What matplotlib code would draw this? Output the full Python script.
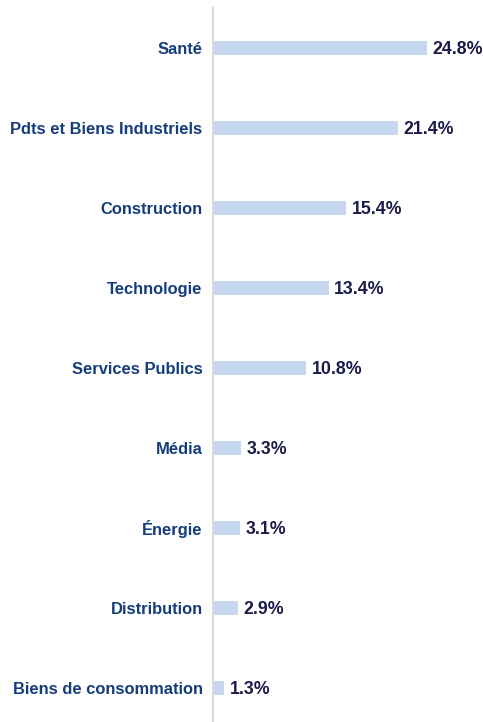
import matplotlib.pyplot as plt

# secteurs et poids (%)
secteurs = ['Santé', 'Pdts et Biens Industriels', 'Construction', 'Technologie',
            'Services Publics', 'Média', 'Énergie', 'Distribution',
            'Biens de consommation']
poids = [24.8, 21.4, 15.4, 13.4, 10.8, 3.3, 3.1, 2.9, 1.3]

plt.rcParams['font.family'] = ['Liberation Sans', 'DejaVu Sans']

fig = plt.figure(figsize=(4.83, 7.22), dpi=100)
ax = fig.add_axes([213 / 483, 0, 270 / 483, 714 / 722])

y = list(range(len(secteurs)))
ax.barh(y, poids, height=0.175, color='#c6d9f1')

for i, v in enumerate(poids):
    ax.annotate(f'{v:.1f}%', (v, i), xytext=(4, 0), textcoords='offset points',
                va='center_baseline', ha='left', fontsize=12.8, fontweight='bold',
                color='#1b1b4b')

ax.set_yticks(y)
ax.set_yticklabels(secteurs, fontsize=11.9, fontweight='bold', color='#153d7c')
ax.tick_params(axis='y', length=0, pad=7.5)
ax.set_xticks([])
ax.set_xlim(0, 270 / 8.63)
ax.set_ylim(8.425, -0.5)

for s in ['top', 'right', 'bottom']:
    ax.spines[s].set_visible(False)
ax.spines['left'].set_color('#d9d9d9')
ax.spines['left'].set_linewidth(1.5)

fig.savefig('out.png', dpi=100)
